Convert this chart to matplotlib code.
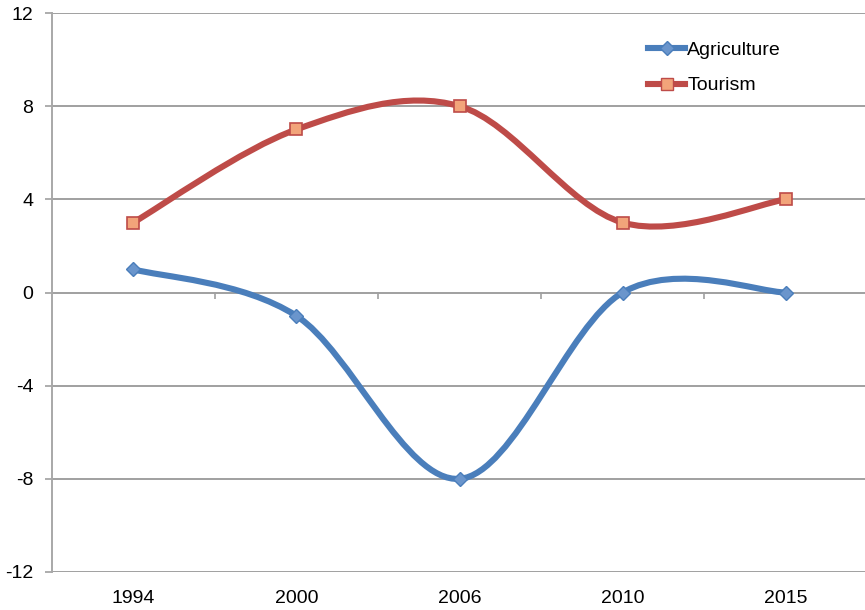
import numpy as np
import matplotlib.pyplot as plt
from matplotlib.path import Path
from matplotlib.patches import PathPatch
from matplotlib.lines import Line2D

plt.rcParams.update({
    'font.family': ['Liberation Sans', 'DejaVu Sans'],
    'font.size': 14,
    'axes.unicode_minus': False,
})

# Datos
years = ['1994', '2000', '2006', '2010', '2015']
agriculture = [1, -1, -8, 0, 0]
tourism = [3, 7, 8, 3, 4]
y_ticks = [-12, -8, -4, 0, 4, 8, 12]

blue = '#4A7EBB'
red = '#BE4B48'


def smooth_path(xs, ys):
    # Curva Bezier tipo Excel (Catmull-Rom con tension 1/6)
    pts = np.column_stack([xs, ys]).astype(float)
    ext = np.vstack([pts[0], pts, pts[-1]])
    verts = [pts[0]]
    codes = [Path.MOVETO]
    for i in range(len(pts) - 1):
        p0, p1, p2, p3 = ext[i], ext[i + 1], ext[i + 2], ext[i + 3]
        c1 = p1 + (p2 - p0) / 6
        c2 = p2 - (p3 - p1) / 6
        verts += [c1, c2, p2]
        codes += [Path.CURVE4] * 3
    return Path(verts, codes)


fig = plt.figure(figsize=(8.65, 6.1), dpi=100)
ax = fig.add_axes([51.5 / 865, 38 / 610, 816 / 865, 559 / 610])

x = np.arange(len(years))

for vals, col in [(agriculture, blue), (tourism, red)]:
    patch = PathPatch(smooth_path(x, vals), facecolor='none', edgecolor=col,
                      lw=4.4, capstyle='round', joinstyle='round', zorder=3)
    ax.add_patch(patch)

ax.plot(x, agriculture, linestyle='none', marker='D', markersize=7,
        markerfacecolor='#6A95CC', markeredgecolor=blue, markeredgewidth=1, zorder=4)
ax.plot(x, tourism, linestyle='none', marker='s', markersize=8,
        markerfacecolor='#F2A47A', markeredgecolor=red, markeredgewidth=1.2, zorder=4)

ax.set_xlim(-0.5, len(years) - 0.5)
ax.set_ylim(-12, 12)
ax.set_yticks(y_ticks)
ax.set_yticklabels([str(v) for v in y_ticks])
ax.set_xticks(x)
ax.set_xticklabels(years)

ax.grid(axis='y', color='#A0A0A0', linewidth=1.4)
ax.set_axisbelow(True)
for s in ['top', 'right', 'bottom']:
    ax.spines[s].set_visible(False)
ax.spines['left'].set_color('#A8A8A8')
ax.spines['left'].set_linewidth(1.4)

ax.tick_params(axis='y', length=5, width=1.2, color='#A0A0A0', pad=8)
ax.tick_params(axis='x', length=0, pad=13)

# marcas entre categorias sobre la linea del cero
sec = ax.secondary_xaxis(0.5)
sec.set_xticks(x[:-1] + 0.5)
sec.set_xticklabels([''] * (len(years) - 1))
sec.spines['bottom'].set_visible(False)
sec.spines['top'].set_visible(False)
sec.tick_params(length=5, width=1.2, color='#A0A0A0', direction='in')

handles = [
    Line2D([], [], color=blue, lw=4.4, marker='D', markersize=7,
           markerfacecolor='#6A95CC', markeredgecolor=blue),
    Line2D([], [], color=red, lw=4.4, marker='s', markersize=8,
           markerfacecolor='#F2A47A', markeredgecolor=red),
]
ax.legend(handles, ['Agriculture', 'Tourism'], loc='upper left',
          bbox_to_anchor=(0.71, 0.98), frameon=False, handlelength=1.9,
          handletextpad=0.1, labelspacing=0.9, fontsize=14)

plt.savefig('out.png', dpi=100)
